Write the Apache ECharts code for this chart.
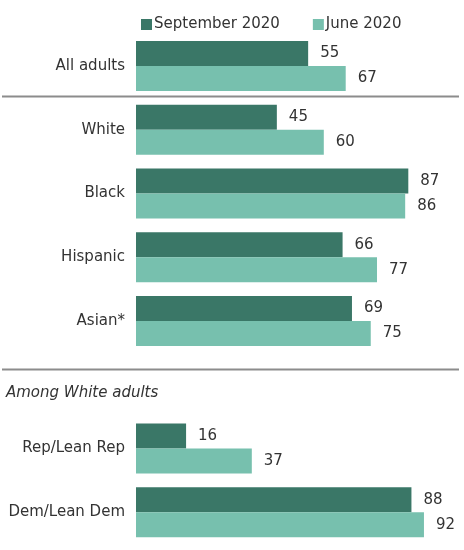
<!DOCTYPE html>
<html>
<head>
<meta charset="utf-8">
<script src="https://cdn.jsdelivr.net/npm/echarts@6/dist/echarts.min.js"></script>
<style>
  html, body { margin: 0; padding: 0; background: #fff; }
  #chart { width: 464px; height: 550px; }
</style>
</head>
<body>
<div id="chart"></div>
<script>
// categories (the empty one leaves room for the "Among White adults" heading)
var categories = ['All adults', 'White', 'Black', 'Hispanic', 'Asian*', '', 'Rep/Lean Rep', 'Dem/Lean Dem'];
var september = [55, 45, 87, 66, 69, null, 16, 88];
var june = [67, 60, 86, 77, 75, null, 37, 92];
var seriesNames = ['September 2020', 'June 2020'];
var subHeading = 'Among White adults';

var font = 'DejaVu Sans, Liberation Sans, sans-serif';
var textColor = '#333';

var myChart = echarts.init(document.getElementById('chart'));

function barSeries(name, data, color) {
    return {
        name: name,
        type: 'bar',
        data: data,
        barWidth: 25,
        barGap: 0,
        itemStyle: { color: color },
        label: {
            show: true,
            position: 'right',
            distance: 12,
            color: textColor,
            fontSize: 15,
            fontFamily: font
        },
        silent: true
    };
}

var option = {
    animation: false,
    textStyle: { fontFamily: font },
    legend: {
        left: 136,
        top: 12,
        itemWidth: 11,
        itemHeight: 11,
        itemGap: 33,
        icon: 'rect',
        textStyle: { fontSize: 15, color: textColor, fontFamily: font, padding: [0, 0, 0, -3] },
        data: seriesNames
    },
    grid: { left: 136, right: 15, top: 34, bottom: 6 },
    xAxis: {
        type: 'value',
        min: 0,
        max: 100,
        show: false
    },
    yAxis: {
        type: 'category',
        inverse: true,
        data: categories,
        axisLine: { show: false },
        axisTick: { show: false },
        axisLabel: { color: textColor, fontSize: 15, fontFamily: font, margin: 11 }
    },
    graphic: [
        // separator lines
        { type: 'line', shape: { x1: 2, y1: 96.5, x2: 459, y2: 96.5 }, style: { stroke: '#8c8c8c', lineWidth: 2 } },
        { type: 'line', shape: { x1: 2, y1: 369.5, x2: 459, y2: 369.5 }, style: { stroke: '#8c8c8c', lineWidth: 2 } },
        {
            type: 'text', left: 6, top: 386,
            style: { text: subHeading, fill: textColor, fontSize: 15, fontStyle: 'italic', fontFamily: font }
        }
    ],
    series: [
        barSeries(seriesNames[0], september, '#3a7767'),
        barSeries(seriesNames[1], june, '#77c0ae')
    ]
};

myChart.setOption(option);
</script>
</body>
</html>
